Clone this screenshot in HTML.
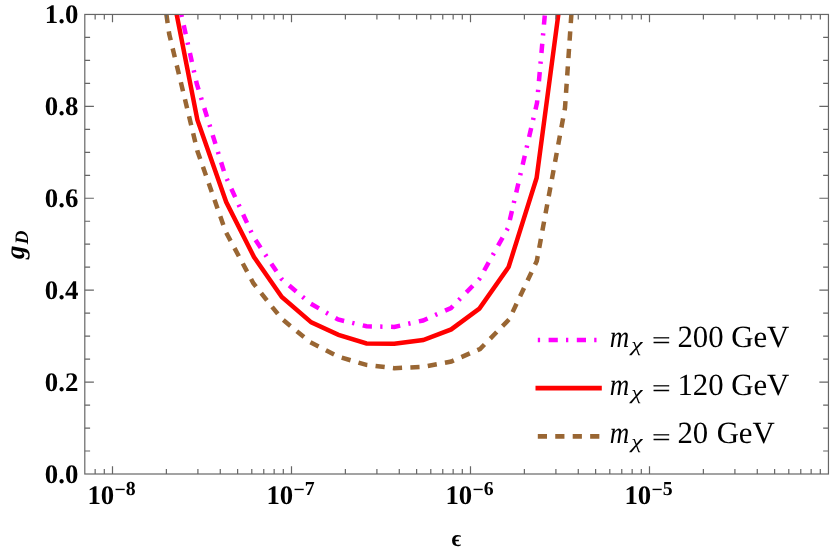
<!DOCTYPE html>
<html><head><meta charset="utf-8"><title>plot</title>
<style>html,body{margin:0;padding:0;background:#fff;}body{width:830px;height:554px;overflow:hidden;}svg{display:block;will-change:transform;}text{font-family:"Liberation Serif",serif;fill:#000;text-rendering:geometricPrecision;font-kerning:none;}.tk{font-weight:bold;font-size:26.8px;}.sup{font-weight:bold;font-size:19.8px;}.lg{font-size:30.8px;}</style></head><body>
<svg width="830" height="554" viewBox="0 0 830 554">
<rect x="0" y="0" width="830" height="554" fill="#ffffff"/>
<defs><clipPath id="cp"><rect x="84.8" y="14.45" width="743.6500000000001" height="459.55"/></clipPath></defs>
<g clip-path="url(#cp)" fill="none" stroke-linejoin="miter" stroke-linecap="butt">
<polyline points="176.8,-6.0 181.3,14.4 196.8,84.0 225.3,175.6 253.5,237.0 281.6,279.0 310.0,303.2 338.0,319.5 366.5,326.3 394.3,326.9 423.0,320.5 451.0,308.0 479.4,279.0 508.0,228.0 537.0,103.0 544.9,14.0 546.7,-6.0" stroke="#ff00ff" stroke-width="4.5" stroke-dasharray="2.3 8.56 9.26 8.29" stroke-dashoffset="7.2"/>
<polyline points="163.6,-8.0 166.4,14.4 169.2,34.0 197.4,151.0 225.6,231.5 253.5,283.5 281.6,318.7 310.0,342.0 338.0,356.5 366.3,364.9 394.3,368.2 423.3,366.8 451.3,361.5 480.0,349.0 509.2,319.3 536.8,261.0 565.0,108.0 571.4,14.0 573.0,-8.0" stroke="#996633" stroke-width="4.5" stroke-dasharray="9.2 8.28" stroke-dashoffset="-4.7"/>
<polyline points="171.9,-10.0 176.6,14.0 197.4,120.0 226.2,202.0 254.0,257.0 281.8,297.0 311.3,322.4 338.5,334.8 366.5,343.4 394.3,343.7 423.2,340.0 451.2,329.4 479.4,308.6 508.6,267.0 536.6,178.0 558.4,14.0 561.6,-10.0" stroke="#ff0000" stroke-width="4.5"/>
</g>
<g stroke="#666666" stroke-width="1.2" fill="none" stroke-linecap="butt">
<rect x="84.8" y="14.45" width="743.6500000000001" height="459.55"/>
<path d="M84.8 451.02h5.3M828.45 451.02h-5.3M84.8 428.05h5.3M828.45 428.05h-5.3M84.8 405.07h5.3M828.45 405.07h-5.3M84.8 382.09h9.1M828.45 382.09h-9.1M84.8 359.11h5.3M828.45 359.11h-5.3M84.8 336.13h5.3M828.45 336.13h-5.3M84.8 313.16h5.3M828.45 313.16h-5.3M84.8 290.18h9.1M828.45 290.18h-9.1M84.8 267.20h5.3M828.45 267.20h-5.3M84.8 244.22h5.3M828.45 244.22h-5.3M84.8 221.25h5.3M828.45 221.25h-5.3M84.8 198.27h9.1M828.45 198.27h-9.1M84.8 175.29h5.3M828.45 175.29h-5.3M84.8 152.31h5.3M828.45 152.31h-5.3M84.8 129.34h5.3M828.45 129.34h-5.3M84.8 106.36h9.1M828.45 106.36h-9.1M84.8 83.38h5.3M828.45 83.38h-5.3M84.8 60.40h5.3M828.45 60.40h-5.3M84.8 37.43h5.3M828.45 37.43h-5.3M95.15 474.0v-5.1M95.15 14.45v5.1M104.31 474.0v-5.1M104.31 14.45v5.1M112.50 474.0v-7.7M112.50 14.45v7.7M166.38 474.0v-5.1M166.38 14.45v5.1M197.90 474.0v-5.1M197.90 14.45v5.1M220.27 474.0v-5.1M220.27 14.45v5.1M237.62 474.0v-5.1M237.62 14.45v5.1M251.79 474.0v-5.1M251.79 14.45v5.1M263.77 474.0v-5.1M263.77 14.45v5.1M274.15 474.0v-5.1M274.15 14.45v5.1M283.31 474.0v-5.1M283.31 14.45v5.1M291.50 474.0v-7.7M291.50 14.45v7.7M345.38 474.0v-5.1M345.38 14.45v5.1M376.90 474.0v-5.1M376.90 14.45v5.1M399.27 474.0v-5.1M399.27 14.45v5.1M416.62 474.0v-5.1M416.62 14.45v5.1M430.79 474.0v-5.1M430.79 14.45v5.1M442.77 474.0v-5.1M442.77 14.45v5.1M453.15 474.0v-5.1M453.15 14.45v5.1M462.31 474.0v-5.1M462.31 14.45v5.1M470.50 474.0v-7.7M470.50 14.45v7.7M524.38 474.0v-5.1M524.38 14.45v5.1M555.90 474.0v-5.1M555.90 14.45v5.1M578.27 474.0v-5.1M578.27 14.45v5.1M595.62 474.0v-5.1M595.62 14.45v5.1M609.79 474.0v-5.1M609.79 14.45v5.1M621.77 474.0v-5.1M621.77 14.45v5.1M632.15 474.0v-5.1M632.15 14.45v5.1M641.31 474.0v-5.1M641.31 14.45v5.1M649.50 474.0v-7.7M649.50 14.45v7.7M703.38 474.0v-5.1M703.38 14.45v5.1M734.90 474.0v-5.1M734.90 14.45v5.1M757.27 474.0v-5.1M757.27 14.45v5.1M774.62 474.0v-5.1M774.62 14.45v5.1M788.79 474.0v-5.1M788.79 14.45v5.1M800.77 474.0v-5.1M800.77 14.45v5.1M811.15 474.0v-5.1M811.15 14.45v5.1M820.31 474.0v-5.1M820.31 14.45v5.1"/>
</g>
<text class="tk" x="78.3" y="482.9" text-anchor="end">0.0</text>
<text class="tk" x="78.3" y="391.0" text-anchor="end">0.2</text>
<text class="tk" x="78.3" y="299.1" text-anchor="end">0.4</text>
<text class="tk" x="78.3" y="207.2" text-anchor="end">0.6</text>
<text class="tk" x="78.3" y="115.3" text-anchor="end">0.8</text>
<text class="tk" x="78.3" y="23.4" text-anchor="end">1.0</text>
<text class="tk" x="87.4" y="504">10<tspan class="sup" dy="-7.9" dx="0.2">−</tspan><tspan class="sup" dy="-1.3">8</tspan></text>
<text class="tk" x="266.4" y="504">10<tspan class="sup" dy="-7.9" dx="0.2">−</tspan><tspan class="sup" dy="-1.3">7</tspan></text>
<text class="tk" x="445.4" y="504">10<tspan class="sup" dy="-7.9" dx="0.2">−</tspan><tspan class="sup" dy="-1.3">6</tspan></text>
<text class="tk" x="624.4" y="504">10<tspan class="sup" dy="-7.9" dx="0.2">−</tspan><tspan class="sup" dy="-1.3">5</tspan></text>
<text class="tk" x="451.4" y="546.0" style="font-size:23.3px">ϵ</text>
<g transform="translate(23.8,259.0) rotate(-90)"><text class="tk" x="0" y="0" style="font-style:italic">g<tspan dy="4.6" dx="1.3" style="font-size:19px">D</tspan></text></g>
<line x1="537.8" y1="340.0" x2="599.6" y2="340.0" stroke="#ff00ff" stroke-width="4.6" stroke-dasharray="2.3 8.5 9.2 8.2"/>
<text class="lg" x="609.8" y="346.5" style="font-style:italic" textLength="19.5" lengthAdjust="spacingAndGlyphs">m</text>
<g transform="translate(631.3,351.1) scale(1.3,1)"><text x="0" y="0" style="font-style:italic;font-size:19.5px">χ</text></g>
<g transform="translate(652.3,348.25) scale(1.05,0.77)"><text class="lg" x="0" y="0" stroke="#000" stroke-width="0.5">=</text></g>
<text class="lg" x="677.4" y="346.5">200</text>
<text class="lg" x="731.3" y="346.5" textLength="58.0" lengthAdjust="spacing">GeV</text>
<line x1="535.5" y1="388.15" x2="601.8" y2="388.15" stroke="#ff0000" stroke-width="4.6"/>
<text class="lg" x="609.8" y="394.6" style="font-style:italic" textLength="19.5" lengthAdjust="spacingAndGlyphs">m</text>
<g transform="translate(631.3,399.2) scale(1.3,1)"><text x="0" y="0" style="font-style:italic;font-size:19.5px">χ</text></g>
<g transform="translate(652.3,396.40) scale(1.05,0.77)"><text class="lg" x="0" y="0" stroke="#000" stroke-width="0.5">=</text></g>
<text class="lg" x="677.4" y="394.6">120</text>
<text class="lg" x="731.3" y="394.6" textLength="58.0" lengthAdjust="spacing">GeV</text>
<line x1="537.8" y1="436.4" x2="599.6" y2="436.4" stroke="#996633" stroke-width="4.6" stroke-dasharray="9.2 8.25"/>
<text class="lg" x="609.8" y="442.9" style="font-style:italic" textLength="19.5" lengthAdjust="spacingAndGlyphs">m</text>
<g transform="translate(631.3,447.5) scale(1.3,1)"><text x="0" y="0" style="font-style:italic;font-size:19.5px">χ</text></g>
<g transform="translate(652.3,444.65) scale(1.05,0.77)"><text class="lg" x="0" y="0" stroke="#000" stroke-width="0.5">=</text></g>
<text class="lg" x="677.4" y="442.9">20</text>
<text class="lg" x="716.6999999999999" y="442.9" textLength="58.0" lengthAdjust="spacing">GeV</text>
</svg></body></html>
